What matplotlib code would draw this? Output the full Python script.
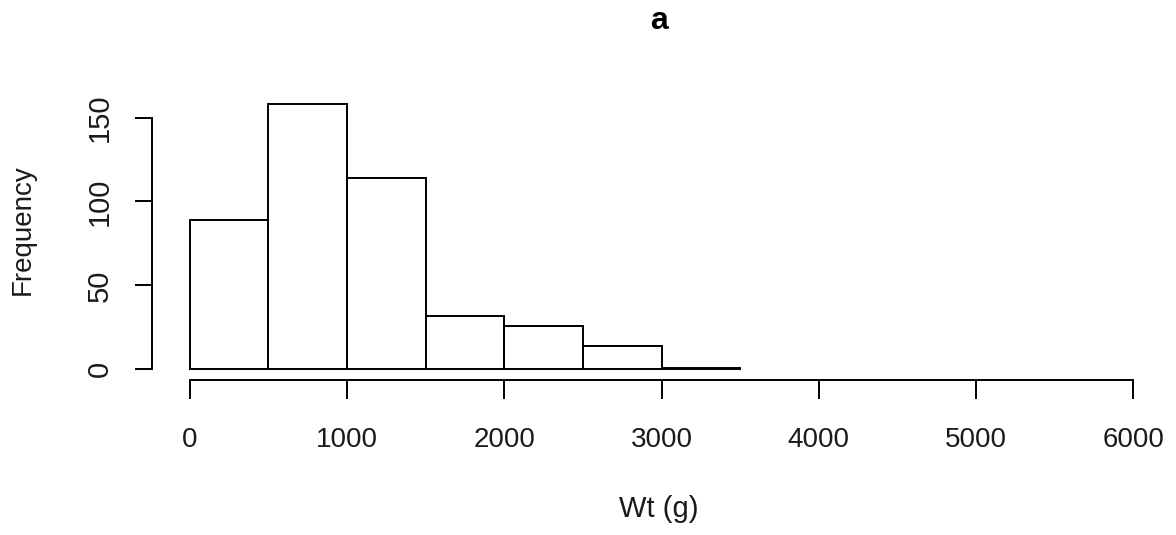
import matplotlib
matplotlib.use("Agg")
import matplotlib.pyplot as plt
import numpy as np

# histogram bins (g) and counts per bin
bin_edges = [0, 500, 1000, 1500, 2000, 2500, 3000, 3500]
counts = [89, 158, 114, 32, 26, 14, 1]
x_ticks = [0, 1000, 2000, 3000, 4000, 5000, 6000]
y_ticks = [0, 50, 100, 150]

plt.rcParams['font.family'] = ['Liberation Sans', 'DejaVu Sans']

W, H = 1176, 535
fig = plt.figure(figsize=(W / 100, H / 100), dpi=100)
# plot region in pixels: left 152, right 1171, top 90, bottom 380
ax = fig.add_axes([152 / W, (H - 380) / H, (1171 - 152) / W, (380 - 90) / H])

edges = np.array(bin_edges)
ax.bar(edges[:-1], counts, width=np.diff(edges), align='edge',
       fill=False, edgecolor='black', linewidth=1.4)

ax.set_xlim(-240, 6240)
ax.set_ylim(-6.4, 166.4)

for s in ['top', 'right']:
    ax.spines[s].set_visible(False)
ax.spines['left'].set_bounds(0, 150)
ax.spines['bottom'].set_bounds(0, 6000)
ax.spines['left'].set_linewidth(1.4)
ax.spines['bottom'].set_linewidth(1.4)

ax.set_xticks(x_ticks)
ax.set_yticks(y_ticks)
ax.tick_params(axis='x', length=14, width=1.4, pad=20, labelsize=20,
               colors='black', labelcolor='#1a1a1a')
ax.tick_params(axis='y', length=12.5, width=1.4, pad=15, labelsize=21,
               colors='black', labelcolor='#1a1a1a')
for lab in ax.get_yticklabels():
    lab.set_rotation(90)
    lab.set_va('center')

fig.text(23 / W, 1 - 230 / H, 'Frequency', rotation=90, ha='center',
         va='center', fontsize=20, color='#1a1a1a')
fig.text(659 / W, 1 - 509 / H, 'Wt (g)', ha='center', va='center',
         fontsize=21, color='#1a1a1a')
fig.text(659 / W, 1 - 21 / H, 'a', ha='center', va='center',
         fontsize=23, fontweight='bold')

fig.savefig('out.png', dpi=100)
